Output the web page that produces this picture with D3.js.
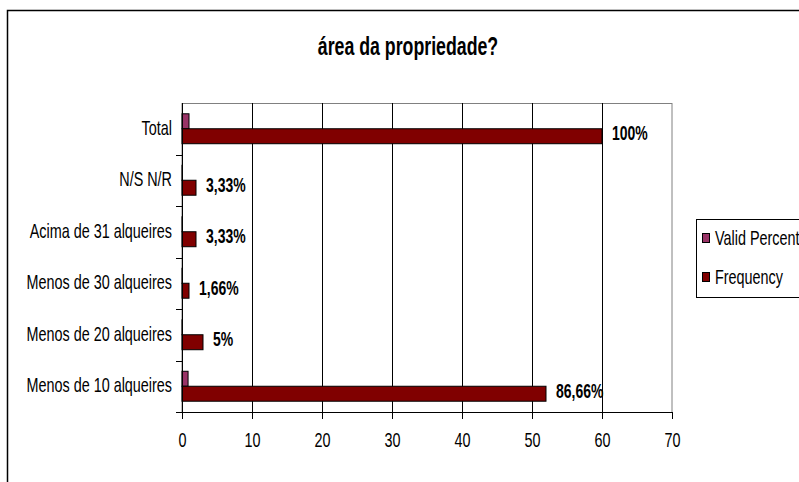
<!DOCTYPE html>
<html>
<head>
<meta charset="utf-8">
<script src="https://cdn.jsdelivr.net/npm/d3@7"></script>
<style>
  html, body { margin: 0; padding: 0; background: #fff; }
  svg { display: block; }
  text { font-family: "Liberation Sans", Arial, sans-serif; fill: #000; }
</style>
</head>
<body>
<svg id="chart" width="799" height="482"></svg>
<script>
const categories = ["Total", "N/S N/R", "Acima de 31 alqueires", "Menos de 30 alqueires", "Menos de 20 alqueires", "Menos de 10 alqueires"];
const validPercent = [1, 0.0333, 0.0333, 0.0166, 0.05, 0.8666];
const frequency = [60, 2, 2, 1, 3, 52];
const freqLabels = ["100%", "3,33%", "3,33%", "1,66%", "5%", "86,66%"];
const seriesNames = ["Valid Percent", "Frequency"];
const seriesColors = ["#993366", "#800000"];
const xTicks = [0, 10, 20, 30, 40, 50, 60, 70];
const title = "área da propriedade?";

const SX = 0.72; // horizontal squeeze to mimic a narrow face
function squeeze(sel, sx) {
  sel.each(function () {
    const t = d3.select(this);
    const x0 = +t.attr("x") || 0;
    t.attr("x", x0 / sx).attr("transform", `scale(${sx},1)`);
  });
}

const svg = d3.select("#chart");
const plot = { left: 182, right: 672, top: 103, bottom: 412 };

// outer chart border
svg.append("rect").attr("x", 7.5).attr("y", 10.5).attr("width", 820).attr("height", 520)
  .attr("fill", "#fff").attr("stroke", "#000").attr("stroke-width", 1.5);

const x = d3.scaleLinear().domain([0, 70]).range([plot.left, plot.right]);
const y = d3.scaleBand().domain(categories).range([plot.top, plot.bottom]).paddingInner(0).paddingOuter(0);
const inner = d3.scaleBand().domain(seriesNames).range([0, y.bandwidth()]).paddingInner(0).paddingOuter(0.72);

// title
svg.append("text").attr("x", 408).attr("y", 55).attr("text-anchor", "middle")
  .attr("font-weight", "bold").attr("font-size", 25).text(title)
  .call(squeeze, 0.71);

// plot border (grey top & right)
svg.append("rect").attr("x", plot.left).attr("y", plot.top + 0.5)
  .attr("width", plot.right - plot.left).attr("height", plot.bottom - plot.top)
  .attr("fill", "none").attr("stroke", "#808080").attr("stroke-width", 1);

// gridlines
svg.append("g").selectAll("line").data(xTicks.filter(t => t > 0 && t < 70)).join("line")
  .attr("x1", d => Math.round(x(d)) + 0.5).attr("x2", d => Math.round(x(d)) + 0.5)
  .attr("y1", plot.top).attr("y2", plot.bottom)
  .attr("stroke", "#000").attr("stroke-width", 1);

// bars
const series = [validPercent, frequency];
series.forEach((vals, si) => {
  svg.append("g").selectAll("rect").data(categories).join("rect")
    .attr("x", x(0))
    .attr("y", d => y(d) + inner(seriesNames[si]))
    .attr("width", (d, i) => x(vals[i]) - x(0))
    .attr("height", inner.bandwidth())
    .attr("fill", seriesColors[si])
    .attr("stroke", "#000").attr("stroke-width", 1);
});

// data labels
svg.append("g").selectAll("text").data(categories).join("text")
  .attr("x", (d, i) => x(frequency[i]) + 10)
  .attr("y", d => y(d) + inner("Frequency") + inner.bandwidth() / 2 - 3)
  .attr("dy", "0.36em")
  .attr("font-weight", "bold").attr("font-size", 20)
  .text((d, i) => freqLabels[i])
  .call(squeeze, 0.70);

// x axis
const xAxis = d3.axisBottom(x).tickValues(xTicks).tickSize(7).tickPadding(14).tickFormat(d3.format("d"));
const gx = svg.append("g").attr("transform", `translate(0,${plot.bottom})`).call(xAxis);
gx.select(".domain").attr("stroke", "#000").attr("d", `M${plot.left - 6},0.5H${plot.right}`);
gx.selectAll(".tick line").attr("stroke", "#000");
gx.selectAll(".tick text").attr("font-size", 20).attr("font-family", null).attr("fill", "#000")
  .call(squeeze, SX);

// y axis
const yAxis = d3.axisLeft(y).tickSize(0).tickPadding(10);
const gy = svg.append("g").attr("transform", `translate(${plot.left},0)`).call(yAxis);
gy.select(".domain").attr("stroke", "#000").attr("d", `M0.5,${plot.top}V${plot.bottom}`);
gy.selectAll(".tick text").attr("font-size", 20).attr("font-family", null).attr("fill", "#000")
  .attr("dy", "0.3em")
  .call(squeeze, SX);
// category separator ticks
svg.append("g").selectAll("line").data(categories.slice(1)).join("line")
  .attr("x1", plot.left - 6).attr("x2", plot.left)
  .attr("y1", d => Math.round(y(d)) + 0.5).attr("y2", d => Math.round(y(d)) + 0.5)
  .attr("stroke", "#000");

// legend
const lg = svg.append("g");
lg.append("rect").attr("x", 696.5).attr("y", 219.5).attr("width", 130).attr("height", 78)
  .attr("fill", "#fff").attr("stroke", "#000").attr("stroke-width", 1);
const legendY = [238, 277];
seriesNames.forEach((s, i) => {
  lg.append("rect").attr("x", 702.5).attr("y", legendY[i] - 4.5).attr("width", 7).attr("height", 9)
    .attr("fill", seriesColors[i]).attr("stroke", "#000").attr("stroke-width", 1);
  lg.append("text").attr("x", 715).attr("y", legendY[i]).attr("dy", "0.35em")
    .attr("font-size", 20).text(s)
    .call(squeeze, SX);
});
</script>
</body>
</html>
